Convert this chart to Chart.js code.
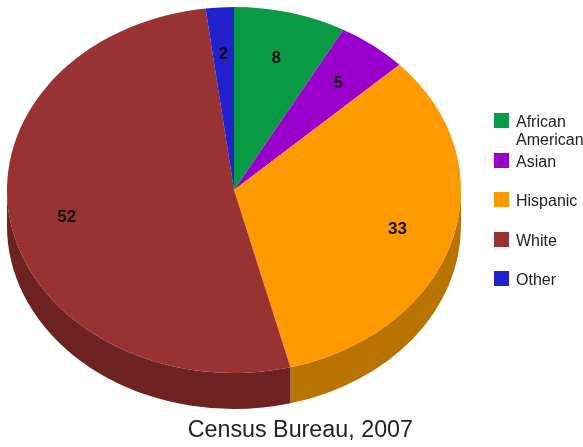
<!DOCTYPE html>
<html><head><meta charset="utf-8">
<script src="https://cdn.jsdelivr.net/npm/chart.js@4"></script>
<style>
html,body{margin:0;padding:0;background:#fff}
#wrap{position:relative;width:583px;height:447px;overflow:hidden}
#legend{position:absolute;left:494px;top:113px;font:16px/18px "Liberation Sans",Arial,sans-serif;color:#222}
.row{position:relative;height:39.5px;padding-left:22px;white-space:pre-line;box-sizing:border-box}
.row i{position:absolute;left:0;top:0;width:15px;height:15px}
</style></head><body>
<div id="wrap"><canvas id="c" width="583" height="447"></canvas><div id="legend"></div></div>
<script>
const categories = ['African American','Asian','Hispanic','White','Other'];
const legendText = ['African\nAmerican','Asian','Hispanic','White','Other'];
const values = [8,5,33,52,2];
const topColors = ['#0a9a46','#9900cc','#ff9900','#993333','#2222cc'];
const sideColors = ['#06602c','#600080','#b87300','#6e2222','#15157f'];
const squash = 183/227;
const depth = 36;
const labelRadius = 0.75;

const pie3d = {
  id:'pie3d',
  beforeDatasetsDraw(chart){
    const ctx = chart.ctx, arcs = chart.getDatasetMeta(0).data, a0 = arcs[0];
    const rx = a0.outerRadius, ry = rx*squash;
    arcs.forEach((arc,i)=>{
      const from = Math.max(arc.startAngle,0), to = Math.min(arc.endAngle,Math.PI);
      if(to<=from) return;
      ctx.beginPath();
      ctx.ellipse(arc.x,arc.y,rx,ry,0,from,to);
      ctx.ellipse(arc.x,arc.y+depth,rx,ry,0,to,from,true);
      ctx.closePath();
      ctx.fillStyle = sideColors[i];
      ctx.fill();
    });
    ctx.save();
    ctx.translate(a0.x,a0.y); ctx.scale(1,squash); ctx.translate(-a0.x,-a0.y);
  },
  afterDatasetsDraw(chart){
    const ctx = chart.ctx;
    ctx.restore();
    ctx.save();
    ctx.font = 'bold 17px "Liberation Sans",Arial,sans-serif';
    ctx.fillStyle = '#111';
    ctx.textAlign = 'center'; ctx.textBaseline = 'middle';
    chart.getDatasetMeta(0).data.forEach((arc,i)=>{
      const mid = (arc.startAngle+arc.endAngle)/2;
      const x = arc.x+Math.cos(mid)*arc.outerRadius*labelRadius;
      const y = arc.y+Math.sin(mid)*arc.outerRadius*labelRadius*squash+1.5;
      ctx.fillText(String(values[i]),x,y);
    });
    ctx.restore();
  }
};

const chart = new Chart(document.getElementById('c'),{
  type:'pie',
  data:{labels:categories,datasets:[{data:values,backgroundColor:topColors,borderWidth:0,radius:227,clip:false}]},
  options:{
    responsive:false,animation:false,
    layout:{padding:{left:55,right:170,top:0,bottom:0}},
    plugins:{
      legend:{display:false},tooltip:{enabled:false},
      title:{display:true,text:'Census Bureau, 2007',position:'bottom',align:'end',color:'#222',
        font:{family:'"Liberation Sans",Arial,sans-serif',size:23.3,weight:'normal',lineHeight:1.2},
        padding:{top:37,bottom:2}}
    }
  },
  plugins:[pie3d]
});
document.getElementById('legend').innerHTML = legendText.map((t,i)=>
  `<div class="row"><i style="background:${topColors[i]}"></i>${t}</div>`).join('');
</script>
</body></html>
